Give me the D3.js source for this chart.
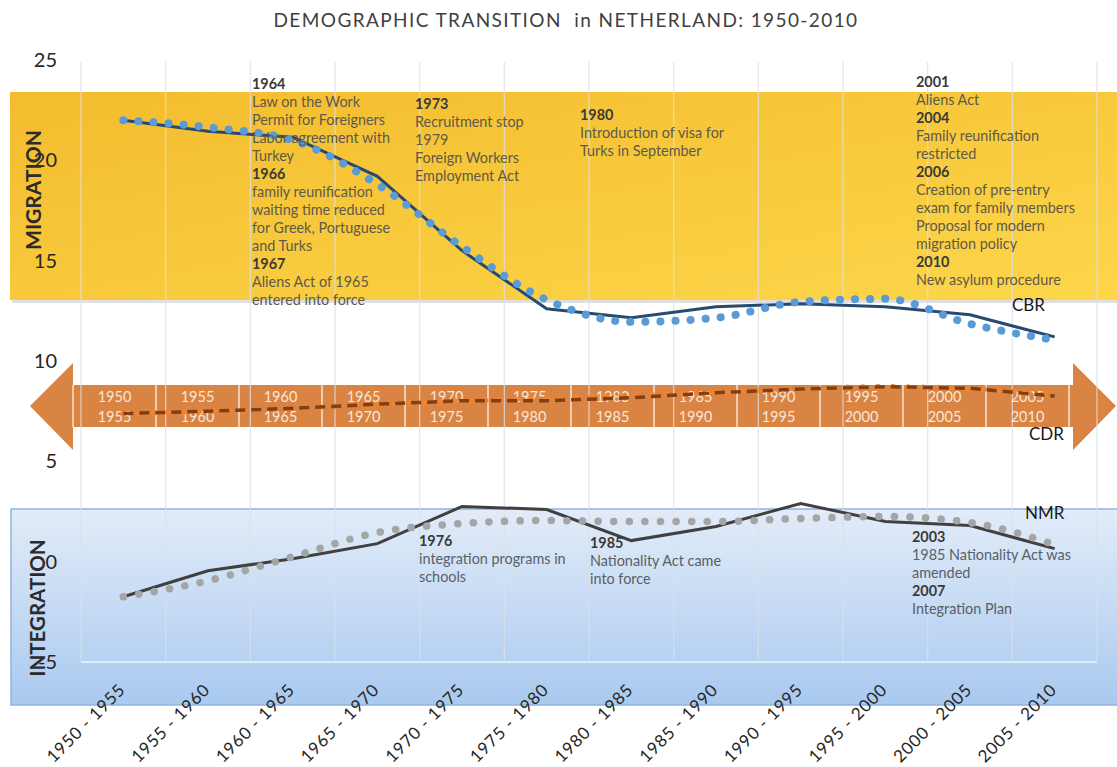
<!DOCTYPE html>
<html>
<head>
<meta charset="utf-8">
<script src="https://d3js.org/d3.v7.min.js"></script>
<style>
  body { margin: 0; background: #fff; }
  svg text { font-family: Lato, "Open Sans", sans-serif; }
</style>
</head>
<body>
<div id="chart"></div>
<script>
// categories and series
var categories = ["1950 - 1955", "1955 - 1960", "1960 - 1965", "1965 - 1970", "1970 - 1975", "1975 - 1980",
                  "1980 - 1985", "1985 - 1990", "1990 - 1995", "1995 - 2000", "2000 - 2005", "2005 - 2010"];
var cbr      = [22.0, 21.45, 21.15, 19.2, 15.5, 12.6, 12.15, 12.7, 12.85, 12.7, 12.3, 11.2];
var cbrTrend = [22.0, 21.65, 21.0, 18.8, 15.7, 13.05, 11.95, 12.15, 12.95, 13.1, 11.85, 11.05];
var cdr      = [7.38, 7.5, 7.64, 7.85, 8.02, 8.02, 8.17, 8.42, 8.6, 8.72, 8.64, 8.25];
var cdrTrend = [7.38, 7.5, 7.65, 7.85, 8.0, 8.12, 8.28, 8.45, 8.62, 8.7, 8.62, 8.3];
var nmr      = [-1.75, -0.45, 0.15, 0.9, 2.75, 2.6, 1.05, 1.75, 2.9, 2.0, 1.8, 0.65];
var nmrTrend = [-1.75, -0.95, 0.25, 1.45, 1.9, 2.05, 2.0, 2.0, 2.15, 2.25, 1.95, 0.85];
var yTicks   = [25, 20, 15, 10, 5, 0, -5];

var title = "DEMOGRAPHIC TRANSITION  in NETHERLAND: 1950-2010";

// policy notes, [text, bold]
var migrationNotes = [
  {x: 252, y: 89, lines: [["1964", 1], ["Law on the Work", 0], ["Permit for Foreigners", 0], ["Labor agreement with", 0], ["Turkey", 0],
                          ["1966", 1], ["family reunification", 0], ["waiting time reduced", 0], ["for Greek, Portuguese", 0], ["and Turks", 0],
                          ["1967", 1], ["Aliens Act of 1965", 0], ["entered into force", 0]]},
  {x: 415, y: 109, lines: [["1973", 1], ["Recruitment stop", 0], ["1979", 0], ["Foreign Workers", 0], ["Employment Act", 0]]},
  {x: 580, y: 120, lines: [["1980", 1], ["Introduction of visa for", 0], ["Turks in September", 0]]},
  {x: 916, y: 87, lines: [["2001", 1], ["Aliens Act", 0], ["2004", 1], ["Family reunification", 0], ["restricted", 0],
                          ["2006", 1], ["Creation of pre-entry", 0], ["exam for family members", 0], ["Proposal for modern", 0],
                          ["migration policy", 0], ["2010", 1], ["New asylum procedure", 0]]}
];
var integrationNotes = [
  {x: 419, y: 546, lines: [["1976", 1], ["integration programs in", 0], ["schools", 0]]},
  {x: 590, y: 548, lines: [["1985", 1], ["Nationality Act came", 0], ["into force", 0]]},
  {x: 912, y: 542, lines: [["2003", 1], ["1985 Nationality Act was", 0], ["amended", 0], ["2007", 1], ["Integration Plan", 0]]}
];

var width = 1117, height = 767;
var svg = d3.select("#chart").append("svg").attr("width", width).attr("height", height);

var x = d3.scaleBand().domain(categories).range([81, 1097]).padding(0);
var y = d3.scaleLinear().domain([-5, 25]).range([662, 60]);
var cx = function(d, i){ return x(categories[i]) + x.bandwidth() / 2; };

var defs = svg.append("defs");
var gy = defs.append("linearGradient").attr("id", "gYellow").attr("x1", 0).attr("y1", 0).attr("x2", 1).attr("y2", 1);
gy.append("stop").attr("offset", "0%").attr("stop-color", "#F3BC2E");
gy.append("stop").attr("offset", "100%").attr("stop-color", "#FDD64A");
var gb = defs.append("linearGradient").attr("id", "gBlue").attr("x1", 0).attr("y1", 0).attr("x2", 0).attr("y2", 1);
gb.append("stop").attr("offset", "0%").attr("stop-color", "#E2ECF9");
gb.append("stop").attr("offset", "100%").attr("stop-color", "#A9C9EF");

// migration band
svg.append("rect").attr("x", 12).attr("y", 95).attr("width", 1110).attr("height", 208).attr("fill", "#000").attr("opacity", 0.12);
svg.append("rect").attr("x", 10).attr("y", 92).attr("width", 1110).attr("height", 208).attr("fill", "url(#gYellow)");

// time arrow
var arrow = d3.path();
arrow.moveTo(30, 406); arrow.lineTo(73, 363); arrow.lineTo(73, 385); arrow.lineTo(1073, 385); arrow.lineTo(1073, 363);
arrow.lineTo(1116, 406); arrow.lineTo(1073, 450); arrow.lineTo(1073, 427); arrow.lineTo(73, 427); arrow.lineTo(73, 450); arrow.closePath();
svg.append("path").attr("d", arrow.toString()).attr("fill", "#DA8444");

var cell = d3.scaleBand().domain(categories).range([73, 1069]);
svg.append("g").selectAll("line").data(categories.concat(["end"])).enter().append("line")
  .attr("x1", function(d, i){ return 73 + i * cell.bandwidth(); })
  .attr("x2", function(d, i){ return 73 + i * cell.bandwidth(); })
  .attr("y1", 385).attr("y2", 427)
  .attr("stroke", "#F7E3D3").attr("stroke-width", 1.5);
var cellText = svg.append("g").attr("fill", "#F7E6D8").style("font-size", "14.5px").attr("text-anchor", "middle");
cellText.selectAll("text.a").data(categories).enter().append("text").attr("class", "a")
  .attr("x", function(d){ return cell(d) + cell.bandwidth() / 2; }).attr("y", 402)
  .text(function(d){ return d.split(" - ")[0]; });
cellText.selectAll("text.b").data(categories).enter().append("text").attr("class", "b")
  .attr("x", function(d){ return cell(d) + cell.bandwidth() / 2; }).attr("y", 422)
  .text(function(d){ return d.split(" - ")[1]; });

// integration band
svg.append("rect").attr("x", 11).attr("y", 509).attr("width", 1112).attr("height", 196)
  .attr("fill", "url(#gBlue)").attr("stroke", "#8FB3DF").attr("stroke-width", 1.5);
svg.append("line").attr("x1", 81).attr("x2", 1097).attr("y1", y(-5)).attr("y2", y(-5))
  .attr("stroke", "#EEF3FA").attr("stroke-width", 1.5);

// vertical gridlines on category edges
var edges = categories.map(function(d){ return x(d); }).concat([x.range()[1]]);
svg.append("g").selectAll("line").data(edges).enter().append("line")
  .attr("x1", function(d){ return d; }).attr("x2", function(d){ return d; })
  .attr("y1", y(25) + 2).attr("y2", y(-5))
  .attr("stroke", "#DCE1E8").attr("stroke-width", 1.3).attr("opacity", 0.75);

// series
var line = d3.line().x(cx).y(function(d){ return y(d); });
var smooth = d3.line().x(cx).y(function(d){ return y(d); }).curve(d3.curveMonotoneX);

svg.append("path").datum(cbr).attr("d", line).attr("fill", "none").attr("stroke", "#274A6F").attr("stroke-width", 3);
svg.append("path").datum(cbrTrend).attr("d", smooth).attr("fill", "none").attr("stroke", "#5B9BD5")
  .attr("stroke-width", 8).attr("stroke-linecap", "round").attr("stroke-dasharray", "0.1 15");

svg.append("path").datum(cdrTrend).attr("d", smooth).attr("fill", "none").attr("stroke", "#F08434")
  .attr("stroke-width", 6).attr("stroke-linecap", "round").attr("stroke-dasharray", "0.1 15");
svg.append("path").datum(cdr).attr("d", line).attr("fill", "none").attr("stroke", "#843F10")
  .attr("stroke-width", 3.5).attr("stroke-dasharray", "10 6");

svg.append("path").datum(nmr).attr("d", line).attr("fill", "none").attr("stroke", "#404040").attr("stroke-width", 3);
svg.append("path").datum(nmrTrend).attr("d", smooth).attr("fill", "none").attr("stroke", "#A5A5A5")
  .attr("stroke-width", 7.5).attr("stroke-linecap", "round").attr("stroke-dasharray", "0.1 15.5");

// y axis labels
svg.append("g").selectAll("text").data(yTicks).enter().append("text")
  .attr("x", 57).attr("y", function(d){ return y(d); }).attr("dy", "0.35em")
  .attr("text-anchor", "end").attr("fill", "#262626").style("font-size", "20px")
  .text(function(d){ return d; });

// x axis labels
svg.append("g").selectAll("text").data(categories).enter().append("text")
  .attr("transform", function(d){ return "translate(" + (x(d) + x.bandwidth() / 2 + 3) + ",691) rotate(-45)"; })
  .attr("text-anchor", "end").attr("fill", "#262626").style("font-size", "17px").style("letter-spacing", "0.8px")
  .text(function(d){ return d; });

// band titles
svg.append("text").attr("transform", "translate(41,190) rotate(-90)").attr("text-anchor", "middle")
  .attr("fill", "#2B2B2B").style("font-size", "21px").style("font-weight", "bold").text("MIGRATION");
svg.append("text").attr("transform", "translate(45,608) rotate(-90)").attr("text-anchor", "middle")
  .attr("fill", "#2B2B2B").style("font-size", "20.5px").style("font-weight", "bold").text("INTEGRATION");

// notes
function drawNotes(notes, col){
  notes.forEach(function(n){
    var t = svg.append("text").style("font-size", "14.4px");
    t.selectAll("tspan").data(n.lines).enter().append("tspan")
      .attr("x", n.x).attr("y", function(d, i){ return n.y + i * 18; })
      .attr("fill", function(d){ return d[1] ? "#3A3A3A" : col; })
      .style("font-weight", function(d){ return d[1] ? "bold" : "normal"; })
      .text(function(d){ return d[0]; });
  });
}
drawNotes(migrationNotes, "#5E5A4A");
drawNotes(integrationNotes, "#5A5F66");

// series names
var names = [["CBR", 1012, 311], ["CDR", 1029, 440], ["NMR", 1025, 519]];
svg.append("g").selectAll("text").data(names).enter().append("text")
  .attr("x", function(d){ return d[1]; }).attr("y", function(d){ return d[2]; })
  .attr("fill", "#1A1A1A").style("font-size", "17px").text(function(d){ return d[0]; });

// title
svg.append("text").attr("x", 566).attr("y", 27).attr("text-anchor", "middle")
  .attr("fill", "#404040").style("font-size", "19px").style("letter-spacing", "1.4px")
  .style("white-space", "pre").text(title);
</script>
</body>
</html>
